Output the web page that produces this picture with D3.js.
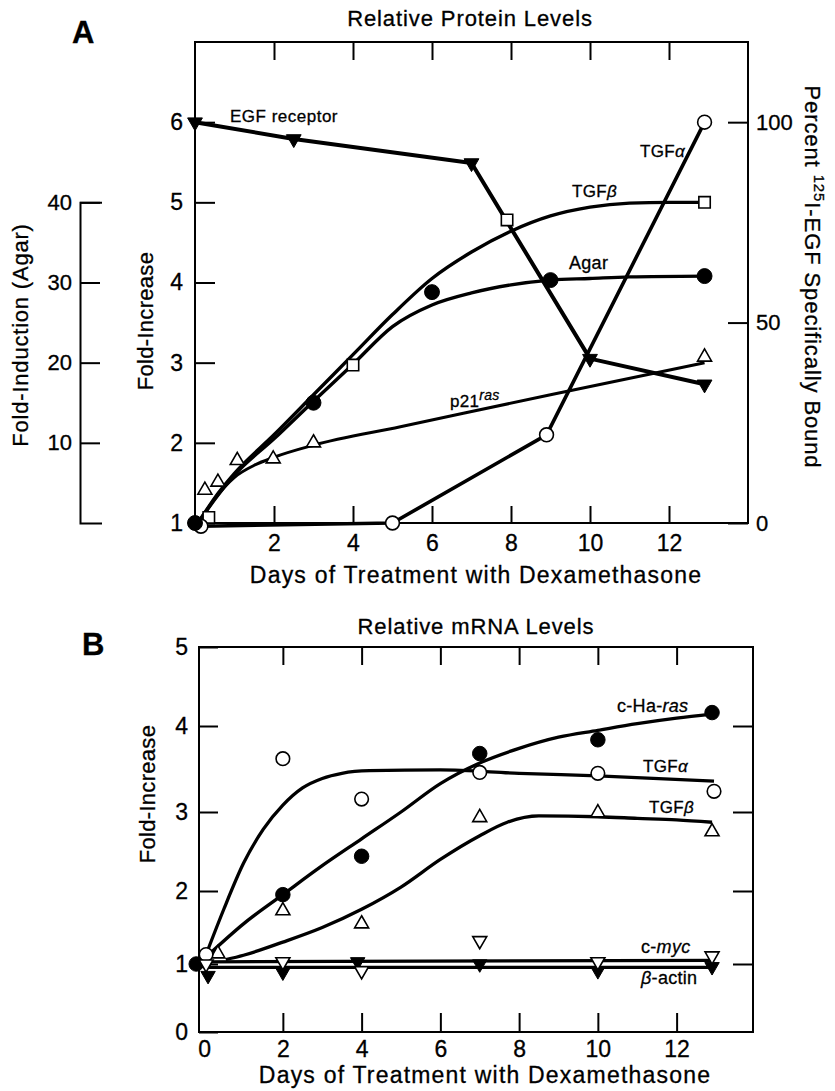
<!DOCTYPE html>
<html>
<head>
<meta charset="utf-8">
<script src="https://cdn.jsdelivr.net/npm/d3@7"></script>
<style>
body { margin: 0; background: #fff; }
svg text { font-family: "Liberation Sans", Arial, Helvetica, sans-serif; fill: #000; stroke: #000; stroke-width: 0.3px; }
</style>
</head>
<body>
<div id="chart"></div>
<script>
// ---------- Panel A : Relative Protein Levels ----------
var dayTicks = [2, 4, 6, 8, 10, 12];
var foldTicksA = [1, 2, 3, 4, 5, 6];
var agarTicks = [10, 20, 30, 40];
var pctTicks = [0, 50, 100];

// EGF receptor, percent 125I-EGF bound (right axis)
var egfDays = [0, 2.5, 7, 10, 12.9];
var egfPct = [100, 95.8, 89.8, 41, 34.6];

// TGF-alpha protein, fold increase
var tgfaDaysA = [0.15, 5, 8.9, 12.9];
var tgfaFoldA = [0.96, 1.0, 2.1, 6.0];

// TGF-beta protein, fold increase (points and fitted curve)
var tgfbDaysA = [0.35, 4, 7.9, 12.9];
var tgfbFoldA = [1.07, 2.97, 4.78, 5.0];
var tgfbFitDaysA = [0.1, 0.6, 1, 2, 3, 4, 5, 6, 7, 8, 9, 10, 11, 12, 12.9];
var tgfbFitA = [1.02, 1.38, 1.62, 2.1, 2.6, 3.1, 3.6, 4.05, 4.38, 4.64, 4.83, 4.94, 4.99, 5.0, 5.0];

// colony formation in agar, fold induction (left-most axis)
var agarDays = [0, 3, 6, 9, 12.9];
var agarVals = [0, 15, 28.8, 30.3, 30.8];
var agarFitDays = [0.1, 0.6, 1, 2, 3, 4, 5, 6, 7, 8, 9, 10, 11, 12.9];
var agarFit = [0.2, 3.6, 6, 10.5, 15.2, 19.8, 24.5, 27.2, 28.7, 29.7, 30.3, 30.5, 30.7, 30.8];

// p21ras, fold increase
var rasDaysA = [0.25, 0.58, 1.07, 1.98, 3, 12.9];
var rasFoldA = [1.41, 1.51, 1.78, 1.8, 2.0, 3.07];
var rasFitDaysA = [0.1, 0.5, 1, 1.5, 2, 3, 5.2, 9, 12.9];
var rasFitA = [1.0, 1.3, 1.57, 1.72, 1.82, 1.97, 2.2, 2.6, 3.0];

// ---------- Panel B : Relative mRNA Levels ----------
var dayTicksB = [0, 2, 4, 6, 8, 10, 12];
var foldTicksB = [0, 1, 2, 3, 4, 5];

var hrasDays = [-0.2, 2, 4, 7, 10, 12.9];
var hrasFold = [1.0, 1.95, 2.44, 3.68, 3.84, 4.17];
var hrasFitDays = [0.1, 1, 2, 3, 4, 5, 6, 7, 8, 9, 10, 11, 12, 12.9];
var hrasFit = [1.12, 1.55, 1.95, 2.32, 2.66, 3.0, 3.33, 3.57, 3.74, 3.87, 3.95, 4.03, 4.1, 4.15];

var tgfaDaysB = [0.05, 2, 4, 7, 10, 12.95];
var tgfaFoldB = [1.13, 3.62, 3.15, 3.46, 3.45, 3.24];
var tgfaFitDaysB = [0.05, 0.5, 1, 1.5, 2, 2.5, 3, 3.5, 4.2, 6, 8, 10, 12.95];
var tgfaFitB = [1.13, 1.75, 2.35, 2.78, 3.08, 3.28, 3.39, 3.45, 3.48, 3.49, 3.45, 3.42, 3.36];

var tgfbDaysB = [0.35, 2, 4, 7, 10, 12.9];
var tgfbFoldB = [1.14, 1.73, 1.55, 2.93, 2.99, 2.75];
var tgfbFitDaysB = [0.55, 1, 2, 3, 4, 5, 6, 7, 7.7, 8.5, 10, 11, 12, 12.9];
var tgfbFitB = [1.06, 1.12, 1.3, 1.5, 1.75, 2.05, 2.4, 2.7, 2.87, 2.95, 2.94, 2.92, 2.9, 2.87];

var mycDays = [0.05, 2, 4, 7, 10, 12.9];
var mycFold = [1.0, 1.03, 0.9, 1.32, 1.03, 1.11];
var mycFitDays = [0.05, 12.9];
var mycFit = [1.03, 1.05];

var actinDays = [0.1, 2, 3.9, 7, 10, 12.9];
var actinFold = [0.83, 0.88, 1.03, 1.0, 0.9, 0.96];
var actinFitDays = [0.1, 12.9];
var actinFit = [0.95, 0.95];

function zip(a, b) { return a.map(function (d, i) { return [d, b[i]]; }); }

var svg = d3.select('#chart').append('svg')
    .attr('width', 835)
    .attr('height', 1091);

// scales
var xA = d3.scaleLinear().domain([0, 14]).range([195, 748]);
var yA = d3.scaleLinear().domain([1, 7]).range([523, 42]);
var agarY = d3.scaleLinear().domain([0, 40]).range([yA(1), yA(5)]);
var pctY = d3.scaleLinear().domain([0, 100]).range([yA(1), yA(6)]);

var xB = d3.scaleLinear().domain([-0.13, 13.94]).range([199, 753]);
// scanned figure is slightly stretched toward the top, follow its ticks
var yB = d3.scaleLinear().domain([0, 1, 2, 3, 4, 5]).range([1032, 964, 891, 812, 726, 647]);

var fmt = d3.format('d');

function styleAxis(g, size) {
    g.selectAll('line').attr('stroke', '#000').attr('stroke-width', 2);
    g.selectAll('path').attr('stroke', '#000').attr('stroke-width', 2);
    g.selectAll('text').attr('fill', '#000').style('font-size', (size || 23) + 'px');
}

// ---- Panel A frame & axes ----
svg.append('rect')
    .attr('x', xA(0)).attr('y', yA(7))
    .attr('width', xA(14) - xA(0)).attr('height', yA(1) - yA(7))
    .attr('fill', 'none').attr('stroke', '#000').attr('stroke-width', 2);

svg.append('g').attr('transform', 'translate(' + xA(0) + ',0)')
    .call(d3.axisLeft(yA).tickValues(foldTicksA).tickFormat(fmt).tickSize(-20).tickPadding(12))
    .call(function (g) { g.select('.domain').remove(); styleAxis(g); });

svg.append('g').attr('transform', 'translate(' + xA(14) + ',0)')
    .call(d3.axisRight(pctY).tickValues(pctTicks).tickFormat(fmt).tickSize(-20).tickPadding(8))
    .call(function (g) { g.select('.domain').remove(); styleAxis(g, 22); });

svg.append('g').attr('transform', 'translate(0,' + yA(1) + ')')
    .call(d3.axisBottom(xA).tickValues(dayTicks).tickFormat(fmt).tickSize(-17).tickPadding(12))
    .call(function (g) { g.select('.domain').remove(); styleAxis(g); });

svg.append('g').attr('transform', 'translate(0,' + yA(7) + ')')
    .call(d3.axisTop(xA).tickValues(dayTicks).tickSize(-18).tickFormat(''))
    .call(function (g) { g.select('.domain').remove(); styleAxis(g); });

svg.append('g').attr('transform', 'translate(80,0)')
    .call(d3.axisLeft(agarY).tickValues(agarTicks).tickFormat(fmt).tickSize(-20).tickSizeOuter(-22).tickPadding(8))
    .call(function (g) { styleAxis(g, 22); g.select('.domain').attr('fill', 'none'); });

// ---- Panel B frame & axes ----
svg.append('rect')
    .attr('x', xB.range()[0]).attr('y', yB(5))
    .attr('width', xB.range()[1] - xB.range()[0]).attr('height', yB(0) - yB(5))
    .attr('fill', 'none').attr('stroke', '#000').attr('stroke-width', 2);

svg.append('g').attr('transform', 'translate(' + xB.range()[0] + ',0)')
    .call(d3.axisLeft(yB).tickValues(foldTicksB).tickFormat(fmt).tickSize(-19).tickPadding(11))
    .call(function (g) { g.select('.domain').remove(); styleAxis(g); });

svg.append('g').attr('transform', 'translate(' + xB.range()[1] + ',0)')
    .call(d3.axisRight(yB).tickValues([1, 2, 3, 4]).tickSize(-20).tickFormat(''))
    .call(function (g) { g.select('.domain').remove(); styleAxis(g); });

svg.append('g').attr('transform', 'translate(0,' + yB(0) + ')')
    .call(d3.axisBottom(xB).tickValues(dayTicksB).tickFormat(fmt).tickSize(-19).tickPadding(9))
    .call(function (g) {
        g.select('.domain').remove();
        styleAxis(g);
        g.selectAll('.tick').filter(function (d) { return d === 0; }).select('line').remove();
    });

svg.append('g').attr('transform', 'translate(0,' + yB(5) + ')')
    .call(d3.axisTop(xB).tickValues(dayTicks).tickSize(-18).tickFormat(''))
    .call(function (g) { g.select('.domain').remove(); styleAxis(g); });

// ---- lines ----
function drawLine(pts, x, y, width, curve) {
    var line = d3.line().x(function (d) { return x(d[0]); }).y(function (d) { return y(d[1]); });
    if (curve) line.curve(curve);
    svg.append('path').datum(pts)
        .attr('d', line)
        .attr('fill', 'none')
        .attr('stroke', '#000')
        .attr('stroke-width', width)
        .attr('stroke-linejoin', 'round');
}

drawLine(zip(egfDays, egfPct), xA, pctY, 4);
drawLine(zip(tgfaDaysA, tgfaFoldA), xA, yA, 3.6);
drawLine(zip(tgfbFitDaysA, tgfbFitA), xA, yA, 3.4, d3.curveMonotoneX);
drawLine(zip(agarFitDays, agarFit), xA, agarY, 3.4, d3.curveMonotoneX);
drawLine(zip(rasFitDaysA, rasFitA), xA, yA, 3, d3.curveMonotoneX);

drawLine(zip(hrasFitDays, hrasFit), xB, yB, 3.3, d3.curveMonotoneX);
drawLine(zip(tgfaFitDaysB, tgfaFitB), xB, yB, 3.3, d3.curveMonotoneX);
drawLine(zip(tgfbFitDaysB, tgfbFitB), xB, yB, 3.3, d3.curveMonotoneX);
drawLine(zip(mycFitDays, mycFit), xB, yB, 3.2);
drawLine(zip(actinFitDays, actinFit), xB, yB, 3.2);

// ---- markers ----
function drawMarks(pts, x, y, type, size, filled, rot) {
    svg.append('g').selectAll('path')
        .data(pts)
        .enter()
        .append('path')
        .attr('d', d3.symbol().type(type).size(size))
        .attr('transform', function (d) {
            return 'translate(' + x(d[0]) + ',' + y(d[1]) + ')' + (rot ? ' rotate(180)' : '');
        })
        .attr('fill', filled ? '#000' : '#fff')
        .attr('stroke', '#000')
        .attr('stroke-width', filled ? 1 : 1.6);
}

drawMarks(zip(tgfbDaysA, tgfbFoldA), xA, yA, d3.symbolSquare, 130, false);
drawMarks(zip(rasDaysA, rasFoldA), xA, yA, d3.symbolTriangle, 85, false);
drawMarks(zip(tgfaDaysA, tgfaFoldA), xA, yA, d3.symbolCircle, 150, false);
drawMarks(zip(agarDays, agarVals), xA, agarY, d3.symbolCircle, 175, true);
drawMarks(zip(egfDays, egfPct), xA, pctY, d3.symbolTriangle, 95, true, true);

drawMarks(zip(tgfbDaysB, tgfbFoldB), xB, yB, d3.symbolTriangle, 85, false);
drawMarks(zip(tgfaDaysB, tgfaFoldB), xB, yB, d3.symbolCircle, 145, false);
drawMarks(zip(hrasDays, hrasFold), xB, yB, d3.symbolCircle, 165, true);
drawMarks(zip(actinDays, actinFold), xB, yB, d3.symbolTriangle, 90, true, true);
drawMarks(zip(mycDays, mycFold), xB, yB, d3.symbolTriangle, 85, false, true);

// ---- text ----
function label(x, y, size, opts) {
    opts = opts || {};
    var t = svg.append('text')
        .attr('x', x).attr('y', y)
        .style('font-size', size + 'px')
        .attr('text-anchor', opts.anchor || 'start');
    if (opts.spacing) t.style('letter-spacing', opts.spacing + 'px');
    if (opts.bold) t.style('font-weight', 'bold');
    if (opts.rotate) t.attr('transform', 'rotate(' + opts.rotate + ',' + x + ',' + y + ')');
    return t;
}

label(72, 43, 31, { bold: true }).text('A');
label(82, 655, 31, { bold: true }).text('B');

label(470, 26, 22, { anchor: 'middle', spacing: 0.9 }).text('Relative Protein Levels');
label(476, 634, 22, { anchor: 'middle', spacing: 0.9 }).text('Relative mRNA Levels');

label(476, 583, 23, { anchor: 'middle', spacing: 1.2 }).text('Days of Treatment with Dexamethasone');
label(485, 1083, 23, { anchor: 'middle', spacing: 1.2 }).text('Days of Treatment with Dexamethasone');

label(153, 321, 22, { anchor: 'middle', spacing: 0.3, rotate: -90 }).text('Fold-Increase');
label(155, 794, 22, { anchor: 'middle', spacing: 0.3, rotate: -90 }).text('Fold-Increase');
label(28, 335, 22, { anchor: 'middle', spacing: 0.8, rotate: -90 }).text('Fold-Induction (Agar)');

var pr = label(805, 277, 22, { anchor: 'middle', spacing: 0.9, rotate: 90 });
pr.append('tspan').text('Percent ');
pr.append('tspan').attr('dy', -9).style('font-size', '15px').text('125');
pr.append('tspan').attr('dy', 9).text('I-EGF Specifically Bound');

// series labels, panel A
label(230, 122, 17, { spacing: 0.5 }).text('EGF receptor');
var ta = label(640, 157, 17, { spacing: 0.3 });
ta.append('tspan').text('TGF');
ta.append('tspan').style('font-style', 'italic').text('α');
var tb = label(572, 197, 17, { spacing: 0.3 });
tb.append('tspan').text('TGF');
tb.append('tspan').style('font-style', 'italic').text('β');
label(569, 269, 18, { spacing: 0.3 }).text('Agar');
var p21 = label(450, 407, 17, { spacing: 0.3 });
p21.append('tspan').text('p21');
p21.append('tspan').attr('dy', -7).style('font-size', '14px').style('font-style', 'italic').text('ras');

// series labels, panel B
var hr = label(617, 712, 18, { spacing: 0.3 });
hr.append('tspan').text('c-Ha-');
hr.append('tspan').style('font-style', 'italic').text('ras');
var ta2 = label(643, 772, 17, { spacing: 0.3 });
ta2.append('tspan').text('TGF');
ta2.append('tspan').style('font-style', 'italic').text('α');
var tb2 = label(649, 813, 17, { spacing: 0.3 });
tb2.append('tspan').text('TGF');
tb2.append('tspan').style('font-style', 'italic').text('β');
var my = label(641, 953, 18, { spacing: 0.3 });
my.append('tspan').text('c-');
my.append('tspan').style('font-style', 'italic').text('myc');
var ac = label(641, 984, 18, { spacing: 0.3 });
ac.append('tspan').style('font-style', 'italic').text('β');
ac.append('tspan').text('-actin');
</script>
</body>
</html>
